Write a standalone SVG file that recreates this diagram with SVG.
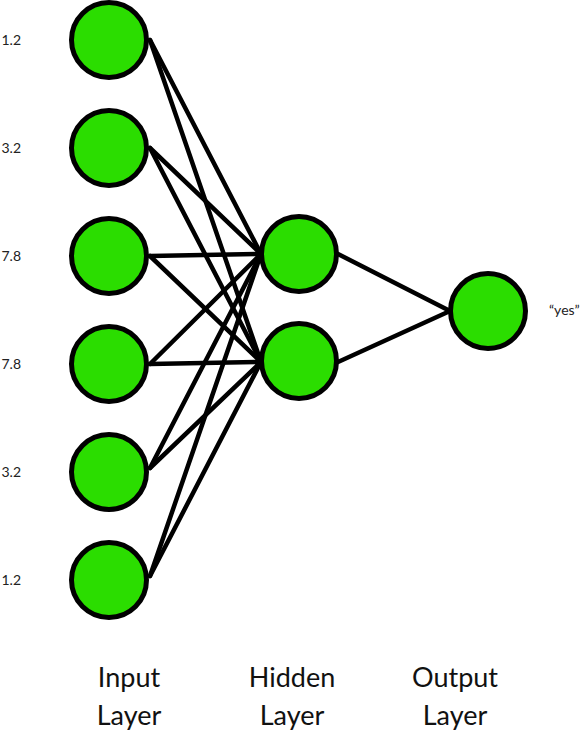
<svg xmlns="http://www.w3.org/2000/svg" width="585" height="734" viewBox="0 0 585 734">
<style>
.n{fill:#2bdd00;stroke:#000;stroke-width:5}
.e{stroke:#000;stroke-width:4.5;stroke-linecap:round;fill:none}
.v{font-family:Lato,"Open Sans","Liberation Sans",sans-serif;font-size:14px;fill:#222}
.l{font-family:Lato,"Open Sans","Liberation Sans",sans-serif;font-size:27px;fill:#111;text-anchor:middle}
</style>
<rect width="585" height="734" fill="#fff"/>
<g id="connectors">
<line class="e" x1="150" y1="40" x2="261" y2="254"/>
<line class="e" x1="150" y1="40" x2="261" y2="362"/>
<line class="e" x1="150" y1="148" x2="261" y2="254"/>
<line class="e" x1="150" y1="148" x2="261" y2="362"/>
<line class="e" x1="150" y1="256" x2="261" y2="254"/>
<line class="e" x1="150" y1="256" x2="261" y2="362"/>
<line class="e" x1="150" y1="364" x2="261" y2="254"/>
<line class="e" x1="150" y1="364" x2="261" y2="362"/>
<line class="e" x1="150" y1="468" x2="261" y2="254"/>
<line class="e" x1="150" y1="468" x2="261" y2="362"/>
<line class="e" x1="150" y1="576" x2="261" y2="254"/>
<line class="e" x1="150" y1="576" x2="261" y2="362"/>
<line class="e" x1="338" y1="254" x2="450" y2="311"/>
<line class="e" x1="338" y1="362" x2="450" y2="311"/>
</g>
<g id="in1"><circle class="n" cx="109" cy="40" r="37.5"/><text class="v" x="21" y="45" text-anchor="end">1.2</text></g>
<g id="in2"><circle class="n" cx="109" cy="148" r="37.5"/><text class="v" x="21" y="153" text-anchor="end">3.2</text></g>
<g id="in3"><circle class="n" cx="109" cy="256" r="37.5"/><text class="v" x="21" y="261" text-anchor="end">7.8</text></g>
<g id="in4"><circle class="n" cx="109" cy="364" r="37.5"/><text class="v" x="21" y="369" text-anchor="end">7.8</text></g>
<g id="in5"><circle class="n" cx="109" cy="472" r="37.5"/><text class="v" x="21" y="477" text-anchor="end">3.2</text></g>
<g id="in6"><circle class="n" cx="109" cy="580" r="37.5"/><text class="v" x="21" y="585" text-anchor="end">1.2</text></g>
<g id="h1"><circle class="n" cx="299" cy="254" r="37.5"/></g>
<g id="h2"><circle class="n" cx="299" cy="361" r="37.5"/></g>
<g id="out"><circle class="n" cx="488" cy="311" r="37.5"/><text class="v" x="549" y="315">“yes”</text></g>
<g id="labels">
<text class="l" x="129" y="687">Input</text>
<text class="l" x="129" y="725">Layer</text>
<text class="l" x="292" y="687">Hidden</text>
<text class="l" x="292" y="725">Layer</text>
<text class="l" x="455" y="687">Output</text>
<text class="l" x="455" y="725">Layer</text>
</g>
</svg>
